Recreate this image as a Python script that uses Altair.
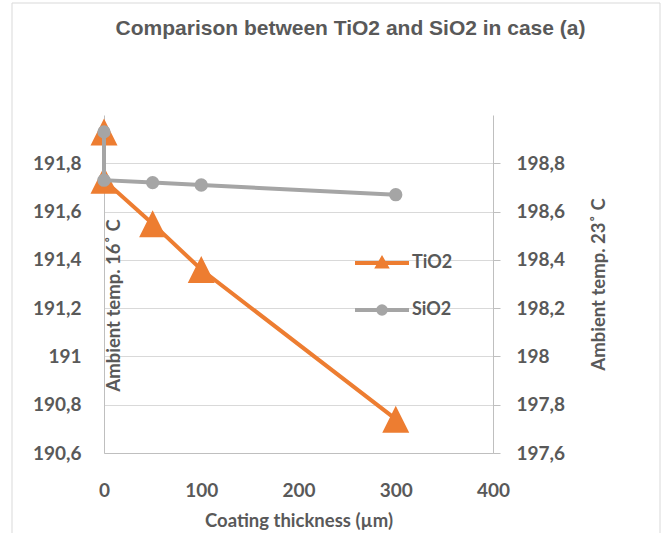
import altair as alt
import pandas as pd

# ---- data ----
thickness_tio2 = [0, 0, 50, 100, 300]
temp_tio2 = [191.93, 191.73, 191.55, 191.36, 190.74]
thickness_sio2 = [0, 0, 50, 100, 300]
temp_sio2 = [198.93, 198.73, 198.72, 198.71, 198.67]
series_names = ["TiO2", "SiO2"]
left_ticks = [190.6, 190.8, 191.0, 191.2, 191.4, 191.6, 191.8]
right_ticks = [197.6, 197.8, 198.0, 198.2, 198.4, 198.6, 198.8]
x_ticks = [0, 100, 200, 300, 400]

ORANGE = "#ED7D31"
GRAY = "#A5A5A5"
TEXT = "#595959"
AXIS = "#BFBFBF"
GRID = "#D9D9D9"
FONT = "Lato"

TRI = "M0,-1L1,1L-1,1Z"
LEG_TRI = "M-1,0H1M-0.16,0.13L0,-0.15L0.16,0.13Z"
LEG_CIRC = "M-1,0H1M0.14,0A0.14,0.14 0 1,1 -0.14,0A0.14,0.14 0 1,1 0.14,0Z"

df_ti = pd.DataFrame({"x": thickness_tio2, "y": temp_tio2, "i": list(range(len(temp_tio2)))})
df_si = pd.DataFrame({"x": thickness_sio2, "y": temp_sio2, "i": list(range(len(temp_sio2)))})
df_leg = pd.DataFrame({"series": series_names})

comma = "replace(format(datum.value, '.1~f'), '.', ',')"

x_enc = alt.X(
    "x:Q",
    scale=alt.Scale(domain=[0, 400], nice=False, zero=False),
    axis=alt.Axis(
        values=x_ticks, title="Coating thickness (µm)", grid=False, ticks=False,
        tickSize=0, domainColor=AXIS, domainWidth=1, labelPadding=28,
        labelFlush=False, titleY=67, titleBaseline="middle",
    ),
)

y_left = alt.Y(
    "y:Q",
    scale=alt.Scale(domain=[190.6, 192.0], nice=False, zero=False),
    axis=alt.Axis(
        orient="left", values=left_ticks, labelExpr=comma,
        title="Ambient temp. 16˚ C", titleX=9, titleY=190, titleAngle=270,
        titleAlign="center", titleBaseline="middle",
        grid=True, gridColor=GRID, gridWidth=1, ticks=False, tickSize=0,
        domainColor=AXIS, labelPadding=23,
    ),
)

y_right = alt.Y(
    "y:Q",
    scale=alt.Scale(domain=[197.6, 199.0], nice=False, zero=False),
    axis=alt.Axis(
        orient="right", values=right_ticks, labelExpr=comma,
        title="Ambient temp. 23˚ C", titleX=105, titleY=169, titleAngle=270,
        titleAlign="center", titleBaseline="middle",
        grid=False, ticks=True, tickSize=7, tickColor=AXIS,
        domainColor=AXIS, labelPadding=16,
    ),
)

ti_line = alt.Chart(df_ti).mark_line(color=ORANGE, strokeWidth=4).encode(
    x=x_enc, y=y_left, order="i:Q"
)
ti_pts = alt.Chart(df_ti).mark_point(
    shape=TRI, filled=True, size=729, color=ORANGE, opacity=1, strokeWidth=0
).encode(x=x_enc, y=y_left)

si_line = alt.Chart(df_si).mark_line(color=GRAY, strokeWidth=4).encode(
    x=x_enc, y=y_right, order="i:Q"
)
si_pts = alt.Chart(df_si).mark_circle(size=177, color=GRAY, opacity=1).encode(
    x=x_enc, y=y_right
)

leg = alt.Legend(
    title=None, orient="none", legendX=249, legendY=119, padding=0,
    symbolSize=2916, symbolStrokeWidth=4, labelFont=FONT, labelFontSize=18,
    labelFontWeight="bold", labelColor=TEXT, rowPadding=6, labelOffset=1,
)
leg_layer = (
    alt.Chart(df_leg)
    .transform_filter("datum.series == 'none'")
    .mark_point(filled=True, opacity=1)
    .encode(
        fill=alt.Fill("series:N", scale=alt.Scale(domain=series_names, range=[ORANGE, GRAY]), legend=leg),
        stroke=alt.Stroke("series:N", scale=alt.Scale(domain=series_names, range=[ORANGE, GRAY]), legend=leg),
        shape=alt.Shape("series:N", scale=alt.Scale(domain=series_names, range=[LEG_TRI, LEG_CIRC]), legend=leg),
    )
)

frame = alt.Chart(pd.DataFrame({"k": [0]})).mark_rect(
    fill="transparent", stroke=GRID, strokeWidth=1
).encode(x=alt.value(-92), x2=alt.value(556), y=alt.value(-112), y2=alt.value(430))

ti = alt.layer(ti_line, ti_pts)
si = alt.layer(si_line, si_pts, leg_layer)

chart = (
    alt.layer(frame, ti, si)
    .resolve_scale(y="independent")
    .properties(
        width=389, height=338,
        background="white",
        autosize=alt.AutoSizeParams(type="none"),
        padding={"left": 104, "top": 115, "right": 170, "bottom": 80},
        title=alt.Title(
            "Comparison between TiO2 and SiO2 in case (a)",
            font="Liberation Sans", fontSize=21, fontWeight="bold", color=TEXT,
            anchor="middle", frame="group", dx=52, dy=53, offset=0, baseline="alphabetic",
        ),
    )
    .configure_axis(
        labelFont=FONT, labelFontSize=19, labelFontWeight="bold", labelColor=TEXT,
        titleFont=FONT, titleFontSize=18.5, titleFontWeight="bold", titleColor=TEXT,
    )
    .configure_view(strokeWidth=0)
)

chart.save("out.html", embed_options={"renderer": "svg", "actions": False})
